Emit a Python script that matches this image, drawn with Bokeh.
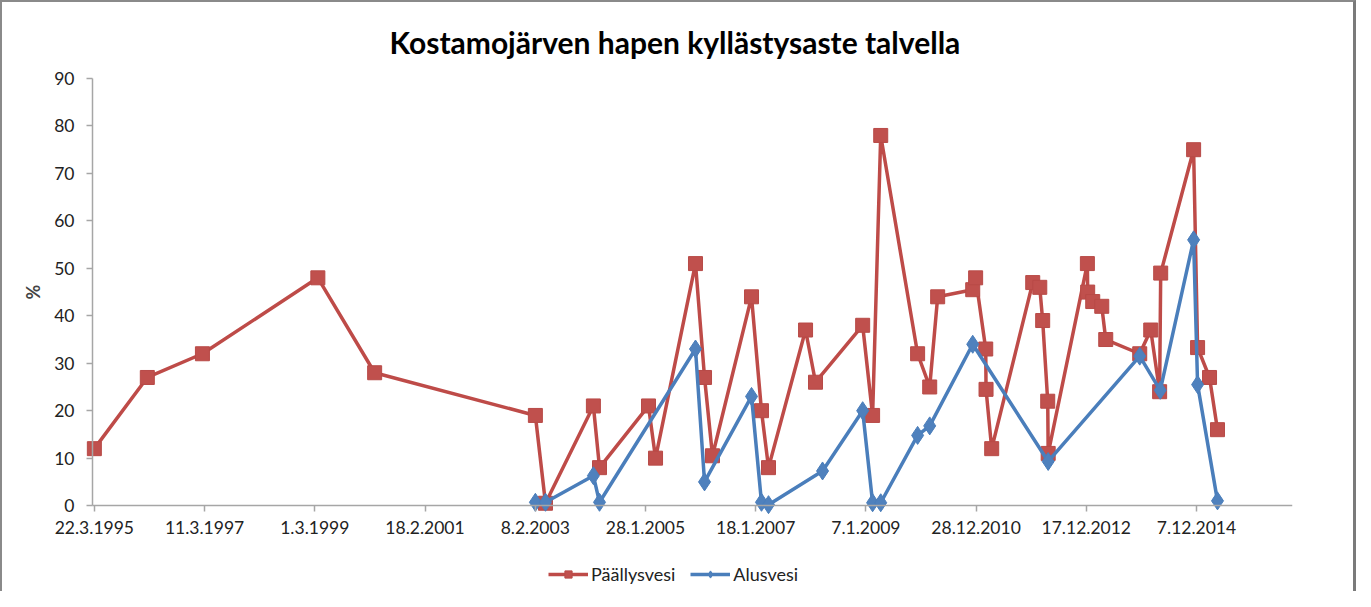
import pandas as pd
from bokeh.plotting import figure
from bokeh.models import Range1d, FixedTicker, Legend, LegendItem, DatetimeAxis, LinearAxis
from bokeh.embed import file_html
from bokeh.resources import INLINE

title_text = "Kostamojärven  hapen kyllästysaste talvella"
y_label = "%"
series_names = ["Päällysvesi", "Alusvesi"]

tick_labels = ["22.3.1995", "11.3.1997", "1.3.1999", "18.2.2001", "8.2.2003",
               "28.1.2005", "18.1.2007", "7.1.2009", "28.12.2010", "17.12.2012",
               "7.12.2014"]
y_ticks = [0, 10, 20, 30, 40, 50, 60, 70, 80, 90]
x_end = "2016-08-25"

pa_dates = ["1995-03-22", "1996-03-02", "1997-02-25", "1999-03-21", "2000-03-26",
            "2003-02-09", "2003-04-16", "2004-02-23", "2004-04-03", "2005-02-17",
            "2005-04-04", "2005-12-21", "2006-02-18", "2006-04-11", "2006-12-22",
            "2007-02-25", "2007-04-12", "2007-12-10", "2008-02-13", "2008-12-17",
            "2009-02-20", "2009-04-14", "2009-12-11", "2010-02-28", "2010-04-21",
            "2010-12-06", "2010-12-25", "2011-03-01", "2011-03-03", "2011-04-09",
            "2012-01-02", "2012-02-17", "2012-03-07", "2012-04-09", "2012-04-12",
            "2012-12-24", "2012-12-26", "2013-01-28", "2013-03-28", "2013-04-23",
            "2013-12-01", "2014-02-11", "2014-04-10", "2014-04-17", "2014-11-18",
            "2014-12-14", "2015-03-02", "2015-04-23"]
pa_values = [12, 27, 32, 48, 28,
             19, 0.5, 21, 8, 21,
             10, 51, 27, 10.5, 44,
             20, 8, 37, 26, 38,
             19, 78, 32, 25, 44,
             45.5, 48, 33, 24.5, 12,
             47, 46, 39, 22, 11,
             51, 45, 43, 42, 35,
             32, 37, 24, 49, 75,
             33.3, 27, 16]

al_dates = ["2003-02-09", "2003-04-16", "2004-02-23", "2004-04-03", "2005-12-21",
            "2006-02-18", "2006-12-22", "2007-02-25", "2007-04-12", "2008-03-30",
            "2008-12-17", "2009-02-20", "2009-04-14", "2009-12-11", "2010-02-28",
            "2010-12-06", "2012-04-12", "2013-12-01", "2014-04-14", "2014-11-18",
            "2014-12-14", "2015-04-23"]
al_values = [0.7, 0.7, 6.3, 0.7, 33,
             5, 23, 0.7, 0.2, 7.3,
             20, 0.6, 0.6, 14.8, 16.8,
             34, 9.3, 31.5, 24.3, 56,
             25.5, 1]

FONT = "Lato"
GRID = "#a6a6a6"
RED_LINE, RED_FILL = "#BE4B48", "#C0504D"
BLUE_LINE, BLUE_FILL = "#4A7EBB", "#4F81BD"

tick_dates = pd.to_datetime(tick_labels, format="%d.%m.%Y")
tick_ms = [int(t.value // 10**6) for t in tick_dates]

x0 = pd.Timestamp(pa_dates[0]) - pd.Timedelta(days=12)   # start of the plot area
x1 = pd.Timestamp(x_end)
x0_ms = int(x0.value // 10**6)
x1_ms = int(x1.value // 10**6)
view_start = x0 - pd.Timedelta(days=575)                 # room for the y-axis labels

# the frame covers the axes' label areas so that axes and legend can sit inside it
p = figure(frame_width=1288, frame_height=521, x_axis_type=None, y_axis_type=None,
           output_backend="svg", toolbar_location=None,
           x_range=Range1d(view_start, x1), y_range=Range1d(-18.1, 91.69),
           min_border_left=2, min_border_right=61,
           min_border_top=68, min_border_bottom=0,
           styles={"border-top": "2px solid #8a8a8a", "border-left": "2px solid #8a8a8a",
                   "border-right": "3px solid #7a7a7a"})

p.title.text = title_text
p.title.align = "left"
p.title.offset = 385
p.title.vertical_align = "middle"
p.title.standoff = 20
p.title.text_font = FONT
p.title.text_font_size = "30px"
p.title.text_font_style = "bold"
p.title.text_color = "#000000"

p.outline_line_color = None
p.xgrid.grid_line_color = None

xaxis = DatetimeAxis(fixed_location=0, bounds=(x0_ms, x1_ms),
                     ticker=FixedTicker(ticks=tick_ms),
                     major_label_overrides={ms: lab for ms, lab in zip(tick_ms, tick_labels)})
p.add_layout(xaxis, "below")

yaxis = LinearAxis(fixed_location=x0_ms, bounds=(0, 90),
                   ticker=FixedTicker(ticks=y_ticks),
                   axis_label=y_label, axis_label_text_font=FONT,
                   axis_label_text_font_style="bold", axis_label_text_font_size="18px",
                   axis_label_standoff=7)
p.add_layout(yaxis, "left")

p.ygrid.grid_line_color = GRID
p.ygrid.grid_line_width = 1.5
p.ygrid.ticker = FixedTicker(ticks=y_ticks)
p.ygrid.bounds = (x0_ms, x1_ms)

for ax in (xaxis, yaxis):
    ax.axis_line_color = GRID
    ax.axis_line_width = 1.5
    ax.major_tick_line_color = GRID
    ax.major_tick_line_width = 1.5
    ax.major_tick_out = 6
    ax.major_tick_in = 0
    ax.minor_tick_line_color = None
    ax.major_label_text_font = FONT
    ax.major_label_text_font_size = "17.5px"
    ax.major_label_text_color = "#222222"
yaxis.major_label_standoff = 12
xaxis.major_label_standoff = 9

pa_x = pd.to_datetime(pa_dates)
al_x = pd.to_datetime(al_dates)

r1l = p.line(pa_x, pa_values, line_color=RED_LINE, line_width=3.5)
r1m = p.scatter(pa_x, pa_values, marker="square", size=14, fill_color=RED_FILL,
                line_color="#B84A47", line_width=1)
r2l = p.line(al_x, al_values, line_color=BLUE_LINE, line_width=3.5)
r2m = p.scatter(al_x, al_values, marker="diamond", size=18, fill_color=BLUE_FILL,
                line_color="#4A7EBB", line_width=1)

legend = Legend(items=[LegendItem(label=series_names[0], renderers=[r1l, r1m]),
                       LegendItem(label=series_names[1], renderers=[r2l, r2m])],
                orientation="horizontal", location=(544, 6),
                label_text_font=FONT, label_text_font_size="18px",
                label_text_color="#222222",
                glyph_width=40, glyph_height=18, label_standoff=3, spacing=15,
                border_line_color=None, background_fill_alpha=0,
                margin=0, padding=0)
p.add_layout(legend, "center")

open("out.html", "w").write(file_html(p, INLINE))
